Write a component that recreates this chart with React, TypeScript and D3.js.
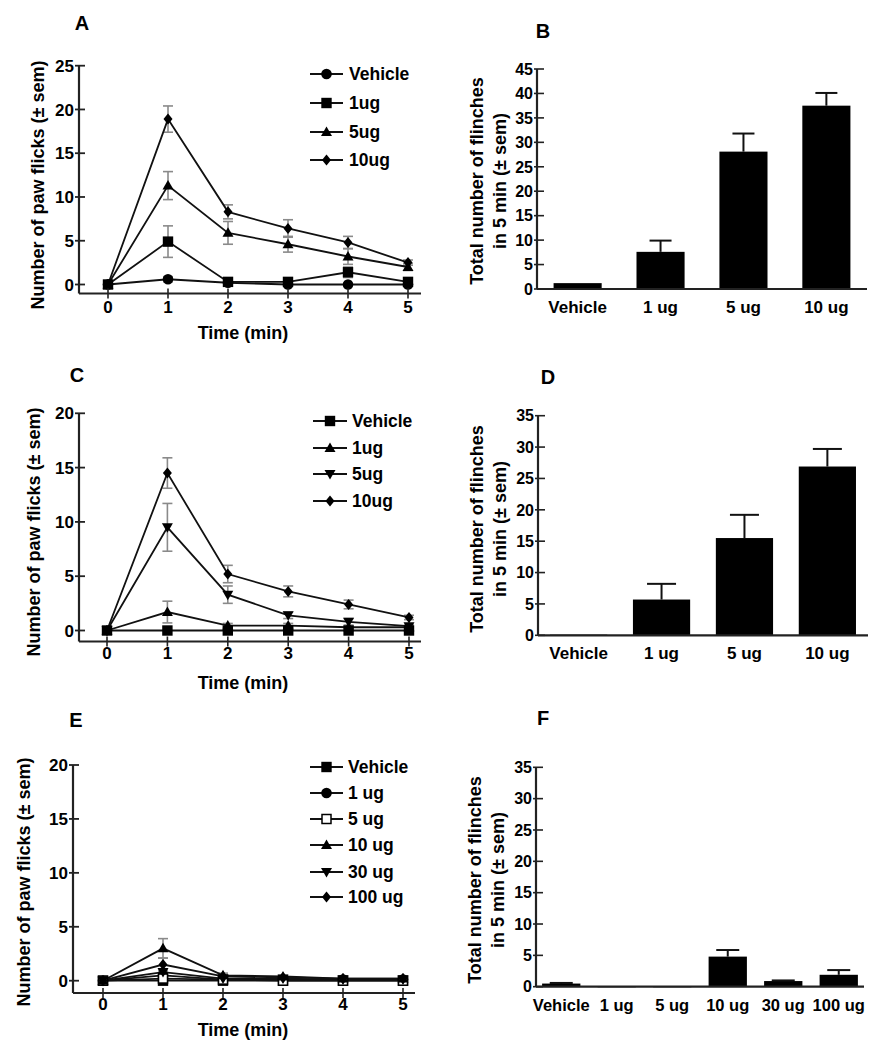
import React from 'react';
import * as d3 from 'd3';

const FONT = '"Liberation Sans", Arial, Helvetica, sans-serif';

// ---------- shared ----------
const timePoints = [0, 1, 2, 3, 4, 5];
const timeTickLabels = ['0', '1', '2', '3', '4', '5'];

// ---------- Panel A ----------
const aSeriesLabels = ['Vehicle', '1ug', '5ug', '10ug'];
const aMarkers = ['circle', 'square', 'triangle', 'diamond'];
const aVehicle = [0, 0.6, 0.2, 0, 0, 0];
const aVehicleErr = [0, 0.3, 0.1, 0, 0, 0];
const a1ug = [0, 4.9, 0.3, 0.3, 1.4, 0.3];
const a1ugErr = [0, 1.8, 0.3, 0.3, 0.6, 0.3];
const a5ug = [0, 11.3, 5.9, 4.6, 3.2, 2.0];
const a5ugErr = [0, 1.6, 1.3, 0.9, 0.9, 0.4];
const a10ug = [0, 18.9, 8.3, 6.4, 4.8, 2.5];
const a10ugErr = [0, 1.5, 0.8, 1.0, 0.7, 0.3];
const aYTicks = [0, 5, 10, 15, 20, 25];

// ---------- Panel C ----------
const cSeriesLabels = ['Vehicle', '1ug', '5ug', '10ug'];
const cMarkers = ['square', 'triangle', 'triangleDown', 'diamond'];
const cVehicle = [0, 0, 0, 0, 0, 0];
const cVehicleErr = [0, 0, 0, 0, 0, 0];
const c1ug = [0, 1.7, 0.45, 0.45, 0.3, 0.3];
const c1ugErr = [0, 1.0, 0.2, 0.2, 0.1, 0.1];
const c5ug = [0, 9.5, 3.3, 1.4, 0.8, 0.4];
const c5ugErr = [0, 2.2, 0.8, 0.3, 0.3, 0.1];
const c10ug = [0, 14.5, 5.2, 3.6, 2.4, 1.2];
const c10ugErr = [0, 1.4, 0.8, 0.5, 0.4, 0.2];
const cYTicks = [0, 5, 10, 15, 20];

// ---------- Panel E ----------
const eSeriesLabels = ['Vehicle', '1 ug', '5 ug', '10 ug', '30 ug', '100 ug'];
const eMarkers = ['square', 'circle', 'openSquare', 'triangle', 'triangleDown', 'diamond'];
const eVehicle = [0, 0, 0, 0, 0, 0];
const e1ug = [0, 0.5, 0.1, 0.1, 0.1, 0.1];
const e5ug = [0, 0.2, 0.1, 0, 0, 0];
const e10ug = [0, 3.0, 0.5, 0.4, 0.2, 0.2];
const e10ugErr = [0, 0.9, 0.2, 0.1, 0.1, 0.1];
const e30ug = [0, 0.8, 0.2, 0.2, 0.1, 0.1];
const e100ug = [0, 1.5, 0.4, 0.3, 0.2, 0.2];
const e100ugErr = [0, 0.6, 0.1, 0.1, 0.1, 0.1];
const eSmallErr = [0, 0.2, 0.1, 0.1, 0.1, 0.1];
const eNoErr = [0, 0, 0, 0, 0, 0];
const eYTicks = [0, 5, 10, 15, 20];

// ---------- Panel B ----------
const bCategories = ['Vehicle', '1 ug', '5 ug', '10 ug'];
const bValues = [1.2, 7.6, 28.1, 37.5];
const bErrors = [0, 2.3, 3.7, 2.6];
const bYTicks = [0, 5, 10, 15, 20, 25, 30, 35, 40, 45];

// ---------- Panel D ----------
const dCategories = ['Vehicle', '1 ug', '5 ug', '10 ug'];
const dValues = [0.1, 5.7, 15.5, 26.9];
const dErrors = [0, 2.5, 3.7, 2.8];
const dYTicks = [0, 5, 10, 15, 20, 25, 30, 35];

// ---------- Panel F ----------
const fCategories = ['Vehicle', '1 ug', '5 ug', '10 ug', '30 ug', '100 ug'];
const fValues = [0.5, 0.1, 0.1, 4.8, 0.9, 1.9];
const fErrors = [0.1, 0, 0, 1.05, 0.1, 0.75];
const fYTicks = [0, 5, 10, 15, 20, 25, 30, 35];

type Series = { label: string; marker: string; values: number[]; errs: number[] };

const TICK_FONT = 17;
const TITLE_FONT = 18;
const LEGEND_FONT = 17.5;

function Marker({ type, x, y }: { type: string; x: number; y: number }) {
  const s = 5.2;
  switch (type) {
    case 'circle':
      return <circle cx={x} cy={y} r={5.3} fill="#000" />;
    case 'square':
      return <rect x={x - s} y={y - s} width={2 * s} height={2 * s} fill="#000" />;
    case 'openSquare':
      return <rect x={x - 4.5} y={y - 4.5} width={9} height={9} fill="#fff" stroke="#000" strokeWidth={1.5} />;
    case 'triangle':
      return <path d={`M${x},${y - 5.5} L${x + 5.5},${y + 4} L${x - 5.5},${y + 4} Z`} fill="#000" />;
    case 'triangleDown':
      return <path d={`M${x},${y + 5.5} L${x + 5.5},${y - 4} L${x - 5.5},${y - 4} Z`} fill="#000" />;
    case 'diamond':
      return <path d={`M${x},${y - 5.5} L${x + 4.5},${y} L${x},${y + 5.5} L${x - 4.5},${y} Z`} fill="#000" />;
    default:
      return null;
  }
}

type LinePanelProps = {
  letter: string;
  letterX: number;
  letterY: number;
  xStart: number;
  xEnd: number;
  axisX: number;
  axisRight: number;
  yZero: number;
  yTop: number;
  yMax: number;
  axisY: number;
  yTicks: number[];
  series: Series[];
  legendX1: number;
  legendX2: number;
  legendTextX: number;
  legendRows: number[];
  yLabelX: number;
  yLabelY: number;
  xLabelX: number;
  xLabelY: number;
  tickLabelY: number;
};

function LinePanel(p: LinePanelProps) {
  const x = d3.scaleLinear().domain([0, 5]).range([p.xStart, p.xEnd]);
  const y = d3.scaleLinear().domain([0, p.yMax]).range([p.yZero, p.yTop]);
  const line = d3
    .line<number>()
    .x((_, i) => x(timePoints[i]))
    .y((d) => y(d));
  const axisColor = '#222';
  return (
    <g fontFamily={FONT} fontWeight="bold">
      <text x={p.letterX} y={p.letterY} fontSize={20} textAnchor="middle">
        {p.letter}
      </text>
      {/* error bars */}
      {p.series.map((s, si) =>
        s.values.map((v, i) =>
          s.errs[i] > 0 ? (
            <g key={`e${si}-${i}`} stroke="#8a8a8a" strokeWidth={1.6}>
              <line x1={x(timePoints[i])} x2={x(timePoints[i])} y1={y(v + s.errs[i])} y2={y(Math.max(0, v - s.errs[i]))} />
              <line x1={x(timePoints[i]) - 5} x2={x(timePoints[i]) + 5} y1={y(v + s.errs[i])} y2={y(v + s.errs[i])} />
              {v - s.errs[i] > 0 ? (
                <line x1={x(timePoints[i]) - 5} x2={x(timePoints[i]) + 5} y1={y(v - s.errs[i])} y2={y(v - s.errs[i])} />
              ) : null}
            </g>
          ) : null
        )
      )}
      {/* lines */}
      {p.series.map((s, si) => (
        <path key={`l${si}`} d={line(s.values) || ''} fill="none" stroke="#111" strokeWidth={1.8} />
      ))}
      {/* markers */}
      {p.series.map((s, si) =>
        s.values.map((v, i) => <Marker key={`m${si}-${i}`} type={s.marker} x={x(timePoints[i])} y={y(v)} />)
      )}
      {/* y axis */}
      <line x1={p.axisX} x2={p.axisX} y1={y(p.yMax)} y2={p.axisY} stroke={axisColor} strokeWidth={2.2} />
      {p.yTicks.map((t) => (
        <g key={`yt${t}`}>
          <line x1={p.axisX - 4} x2={p.axisX + 6} y1={y(t)} y2={y(t)} stroke={axisColor} strokeWidth={1.8} />
          <text x={p.axisX - 5} y={y(t)} dy="0.36em" fontSize={TICK_FONT} textAnchor="end">
            {t}
          </text>
        </g>
      ))}
      {/* x axis */}
      <line x1={p.axisX} x2={p.axisRight} y1={p.axisY} y2={p.axisY} stroke={axisColor} strokeWidth={2.2} />
      {timePoints.map((t, i) => (
        <g key={`xt${t}`}>
          <line x1={x(t)} x2={x(t)} y1={p.axisY - 5} y2={p.axisY + 5} stroke={axisColor} strokeWidth={1.6} />
          <text x={x(t)} y={p.tickLabelY} fontSize={TICK_FONT} textAnchor="middle">
            {timeTickLabels[i]}
          </text>
        </g>
      ))}
      <text x={p.xLabelX} y={p.xLabelY} fontSize={TITLE_FONT} textAnchor="middle">
        Time (min)
      </text>
      <text
        transform={`translate(${p.yLabelX},${p.yLabelY}) rotate(-90)`}
        fontSize={TITLE_FONT}
        textAnchor="middle"
        dominantBaseline="central"
      >
        {'Number of paw flicks (\u00b1 sem)'}
      </text>
      {/* legend */}
      {p.series.map((s, si) => (
        <g key={`lg${si}`}>
          <line x1={p.legendX1} x2={p.legendX2} y1={p.legendRows[si]} y2={p.legendRows[si]} stroke="#111" strokeWidth={1.8} />
          <Marker type={s.marker} x={(p.legendX1 + p.legendX2) / 2} y={p.legendRows[si]} />
          <text x={p.legendTextX} y={p.legendRows[si]} dy="0.36em" fontSize={LEGEND_FONT}>
            {s.label}
          </text>
        </g>
      ))}
    </g>
  );
}

type BarPanelProps = {
  letter: string;
  letterX: number;
  letterY: number;
  categories: string[];
  values: number[];
  errors: number[];
  axisX: number;
  axisRight: number;
  yZero: number;
  yTop: number;
  yMax: number;
  yTicks: number[];
  padInner: number;
  padOuter: number;
  capWidth: number;
  labelY: number;
  yLabelX1: number;
  yLabelX2: number;
  yLabelY: number;
  catFont: number;
};

function BarPanel(p: BarPanelProps) {
  const x = d3
    .scaleBand<string>()
    .domain(p.categories)
    .range([p.axisX, p.axisRight])
    .paddingInner(p.padInner)
    .paddingOuter(p.padOuter);
  const y = d3.scaleLinear().domain([0, p.yMax]).range([p.yZero, p.yTop]);
  const axisColor = '#222';
  return (
    <g fontFamily={FONT} fontWeight="bold">
      <text x={p.letterX} y={p.letterY} fontSize={20} textAnchor="middle">
        {p.letter}
      </text>
      {p.categories.map((c, i) => {
        const cx = (x(c) as number) + x.bandwidth() / 2;
        const top = y(p.values[i]);
        return (
          <g key={c}>
            {p.errors[i] > 0 ? (
              <g stroke="#111" strokeWidth={2}>
                <line x1={cx} x2={cx} y1={top} y2={y(p.values[i] + p.errors[i])} />
                <line
                  x1={cx - p.capWidth / 2}
                  x2={cx + p.capWidth / 2}
                  y1={y(p.values[i] + p.errors[i])}
                  y2={y(p.values[i] + p.errors[i])}
                />
              </g>
            ) : null}
            <rect
              x={x(c)}
              y={top}
              width={x.bandwidth()}
              height={Math.max(1.2, p.yZero - top)}
              fill="#000"
            />
            <text x={cx} y={p.labelY} fontSize={p.catFont} textAnchor="middle">
              {c}
            </text>
          </g>
        );
      })}
      <line x1={p.axisX} x2={p.axisX} y1={y(p.yMax)} y2={p.yZero} stroke={axisColor} strokeWidth={2.2} />
      {p.yTicks.map((t) => (
        <g key={`yt${t}`}>
          <line x1={p.axisX - 3} x2={p.axisX + 7} y1={y(t)} y2={y(t)} stroke={axisColor} strokeWidth={1.6} />
          <text x={p.axisX - 4} y={y(t)} dy="0.36em" fontSize={16} textAnchor="end">
            {t}
          </text>
        </g>
      ))}
      <line x1={p.axisX} x2={p.axisRight} y1={p.yZero} y2={p.yZero} stroke={axisColor} strokeWidth={2.2} />
      <text
        transform={`translate(${p.yLabelX1},${p.yLabelY}) rotate(-90)`}
        fontSize={TITLE_FONT}
        textAnchor="middle"
        dominantBaseline="central"
      >
        Total number of flinches
      </text>
      <text
        transform={`translate(${p.yLabelX2},${p.yLabelY}) rotate(-90)`}
        fontSize={TITLE_FONT}
        textAnchor="middle"
        dominantBaseline="central"
      >
        {'in 5 min (\u00b1 sem)'}
      </text>
    </g>
  );
}

function mk(labels: string[], markers: string[], vals: number[][], errs: number[][]): Series[] {
  return labels.map((l, i) => ({ label: l, marker: markers[i], values: vals[i], errs: errs[i] }));
}

export default function App() {
  const aSeries = mk(aSeriesLabels, aMarkers, [aVehicle, a1ug, a5ug, a10ug], [aVehicleErr, a1ugErr, a5ugErr, a10ugErr]);
  const cSeries = mk(cSeriesLabels, cMarkers, [cVehicle, c1ug, c5ug, c10ug], [cVehicleErr, c1ugErr, c5ugErr, c10ugErr]);
  const eSeries = mk(
    eSeriesLabels,
    eMarkers,
    [eVehicle, e1ug, e5ug, e10ug, e30ug, e100ug],
    [eNoErr, eSmallErr, eNoErr, e10ugErr, eSmallErr, e100ugErr]
  );
  return (
    <div style={{ position: 'absolute', left: 0, top: 0 }}>
      <svg width={889} height={1050} style={{ display: 'block', background: '#fff' }}>
        <rect width={889} height={1050} fill="#fff" />
        <LinePanel
          letter="A"
          letterX={82}
          letterY={30}
          xStart={108}
          xEnd={408}
          axisX={79}
          axisRight={421}
          yZero={284.5}
          yTop={65.7}
          yMax={25}
          axisY={293.5}
          yTicks={aYTicks}
          series={aSeries}
          legendX1={310}
          legendX2={343}
          legendTextX={349}
          legendRows={[74, 103, 132, 160]}
          yLabelX={38}
          yLabelY={185}
          xLabelX={243}
          xLabelY={339}
          tickLabelY={313}
        />
        <LinePanel
          letter="C"
          letterX={77}
          letterY={382}
          xStart={107}
          xEnd={409}
          axisX={79}
          axisRight={421}
          yZero={630.5}
          yTop={413.3}
          yMax={20}
          axisY={641.5}
          yTicks={cYTicks}
          series={cSeries}
          legendX1={313}
          legendX2={347}
          legendTextX={352}
          legendRows={[421, 448, 474, 501]}
          yLabelX={34}
          yLabelY={532}
          xLabelX={243}
          xLabelY={689}
          tickLabelY={659}
        />
        <LinePanel
          letter="E"
          letterX={76}
          letterY={727}
          xStart={103}
          xEnd={403}
          axisX={73}
          axisRight={415}
          yZero={980.7}
          yTop={765}
          yMax={20}
          axisY={993}
          yTicks={eYTicks}
          series={eSeries}
          legendX1={310}
          legendX2={343}
          legendTextX={348}
          legendRows={[767, 793, 819, 845, 872, 897]}
          yLabelX={24}
          yLabelY={882}
          xLabelX={243}
          xLabelY={1036}
          tickLabelY={1010}
        />
        <BarPanel
          letter="B"
          letterX={543}
          letterY={38}
          categories={bCategories}
          values={bValues}
          errors={bErrors}
          axisX={537}
          axisRight={867}
          yZero={289}
          yTop={69}
          yMax={45}
          yTicks={bYTicks}
          padInner={0.42}
          padOuter={0.2}
          capWidth={22}
          labelY={313}
          yLabelX1={477}
          yLabelX2={500}
          yLabelY={181}
          catFont={17}
        />
        <BarPanel
          letter="D"
          letterX={548}
          letterY={384}
          categories={dCategories}
          values={dValues}
          errors={dErrors}
          axisX={538}
          axisRight={868}
          yZero={635.3}
          yTop={415.7}
          yMax={35}
          yTicks={dYTicks}
          padInner={0.31}
          padOuter={0.145}
          capWidth={29}
          labelY={659}
          yLabelX1={477}
          yLabelX2={500}
          yLabelY={529}
          catFont={17}
        />
        <BarPanel
          letter="F"
          letterX={543}
          letterY={725}
          categories={fCategories}
          values={fValues}
          errors={fErrors}
          axisX={536}
          axisRight={864}
          yZero={986.7}
          yTop={767.3}
          yMax={35}
          yTicks={fYTicks}
          padInner={0.31}
          padOuter={0.11}
          capWidth={23}
          labelY={1011}
          yLabelX1={475}
          yLabelX2={498}
          yLabelY={880}
          catFont={16.5}
        />
      </svg>
    </div>
  );
}
